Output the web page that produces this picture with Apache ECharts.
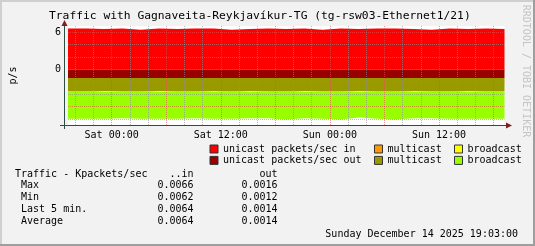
<!DOCTYPE html>
<html><head><meta charset="utf-8">
<script src="https://cdn.jsdelivr.net/npm/echarts@6/dist/echarts.min.js"></script>
<style>html,body{margin:0;padding:0;background:#f2f2f2}#c{width:535px;height:246px}</style>
</head><body><div id="c"></div>
<script>
// ---- data (hours relative to Sat 00:00, 13 Dec 2025) ----
const hours = [-4.8,-2.8,-0.8,1.2,3.2,5.2,7.2,9.2,11.2,13.2,15.2,17.2,19.2,21.2,23.2,25.2,27.2,29.2,31.2,33.2,35.2,37.2,39.2,41.2,43.2];
const inUnicast   = [6.6,6.5,6.6,6.4,6.6,6.5,6.6,6.6,6.4,6.5,6.6,6.5,6.6,6.4,6.6,6.5,6.6,6.6,6.5,6.4,6.6,6.5,6.6,6.5,6.6];
const inMulticast = [0,0,0,0,0,0,0,0,0,0,0,0,0,0,0,0,0,0,0,0,0,0,0,0,0];
const inBroadcast = [0,0,0,0,0,0,0,0,0,0,0,0,0,0,0,0,0,0,0,0,0,0,0,0,0];
const outUnicast   = [-1.4,-1.4,-1.4,-1.4,-1.4,-1.4,-1.4,-1.4,-1.4,-1.4,-1.4,-1.4,-1.4,-1.4,-1.4,-1.4,-1.4,-1.4,-1.4,-1.4,-1.4,-1.4,-1.4,-1.4,-1.4];
const outMulticast = [-2.2,-2.1,-2.2,-2.2,-2.1,-2.2,-2.2,-2.1,-2.2,-2.1,-2.2,-2.2,-2.1,-2.2,-2.2,-2.1,-2.2,-2.2,-2.1,-2.2,-2.2,-2.1,-2.2,-2.2,-2.2];
const outBroadcast = [-4.4,-4.5,-4.3,-4.4,-4.5,-4.4,-4.3,-4.5,-4.4,-4.4,-4.3,-4.5,-4.4,-4.4,-4.5,-4.3,-4.4,-4.5,-4.4,-4.3,-4.4,-4.5,-4.4,-4.4,-4.4];
const xRangeHours = [-4.8, 43.2];
const xTickHours = [0,12,24,36];
const xTickNames = ['Sat 00:00','Sat 12:00','Sun 00:00','Sun 12:00'];
const yTickValues = [6,0];
const minorXGrid = [-4,-2,2,4,8,10,14,16,20,22,26,28,32,34,38,40];
const majorXGrid = [0,6,12,18,24,30,36,42];
const minorYGrid = [4,2,-2,-4,-8];
const majorYGrid = [6,0,-6];
const seriesNames = ['unicast packets/sec in','multicast','broadcast','unicast packets/sec out','multicast ','broadcast '];
const seriesColors = ['#ff0000','#ff9900','#ffff00','#990000','#999900','#99ff00'];
const statLabels = ['Max','Min','Last 5 min.','Average'];
const statIn  = ['0.0066','0.0062','0.0064','0.0064'];
const statOut = ['0.0016','0.0012','0.0014','0.0014'];

const FONT = 'DejaVu Sans Mono';
const BASE = new Date(2025,11,13,0,0,0).getTime();
const H = 3600*1000;
const t = h => BASE + h*H;
const pairs = arr => hours.map((h,i)=>[t(h),arr[i]]);
const allVals = [inUnicast,inMulticast,inBroadcast,outUnicast,outMulticast,outBroadcast];
const stacks = ['in','in','in','out','out','out'];

const series = allVals.map((arr,i)=>{
  const hasArea = arr.some(v=>v!==0);
  const s = {
    name: seriesNames[i], type:'line', stack: stacks[i], step:'end',
    data: pairs(arr), color: seriesColors[i], showSymbol:false, symbol:'none',
    lineStyle:{width:0, opacity:0}, silent:true, z:2
  };
  if (hasArea) s.areaStyle = {color:seriesColors[i], opacity:1};
  return s;
});
const gridLine = (col)=>({color:col, width:1, type:[1,1]});
const minC='rgba(143,143,143,0.6)', majC='rgba(222,80,80,0.6)';
series[5].markLine = {
  silent:true, symbol:'none', label:{show:false}, animation:false,
  data: [].concat(
    minorYGrid.map(v=>({yAxis:v, lineStyle:gridLine(minC)})),
    majorYGrid.map(v=>({yAxis:v, lineStyle:gridLine(majC)})),
    minorXGrid.map(v=>({xAxis:t(v), lineStyle:gridLine(minC)})),
    majorXGrid.map(v=>({xAxis:t(v), lineStyle:gridLine(majC)}))
  )
};

const txt = (x,y,s,align)=>({type:'text', x, y, style:{text:s, font:'10px "'+FONT+'"', fill:'#000', align:align||'left', verticalAlign:'middle'}, silent:true});
const graphics = [
  {type:'rect', shape:{x:0,y:0,width:535,height:2}, style:{fill:'#cfcfcf'}, silent:true},
  {type:'rect', shape:{x:0,y:0,width:2,height:246}, style:{fill:'#cfcfcf'}, silent:true},
  {type:'rect', shape:{x:533,y:0,width:2,height:246}, style:{fill:'#9e9e9e'}, silent:true},
  {type:'rect', shape:{x:0,y:244,width:535,height:2}, style:{fill:'#9e9e9e'}, silent:true},
  {type:'text', x:526, y:71, rotation:-Math.PI/2, style:{text:'RRDTOOL / TOBI OETIKER', font:'10px "'+FONT+'"', fill:'#c4c4c4', align:'center', verticalAlign:'middle'}, silent:true},
  {type:'line', shape:{x1:60,y1:125.5,x2:508,y2:125.5}, style:{stroke:'#2c4d43',lineWidth:1}, silent:true, z:10},
  {type:'line', shape:{x1:64.5,y1:129,x2:64.5,y2:23}, style:{stroke:'#2c4d43',lineWidth:1}, silent:true, z:10},
  {type:'polygon', shape:{points:[[506,122.5],[512,125.5],[506,128.5]]}, style:{fill:'#7f1f1f'}, silent:true, z:10},
  {type:'polygon', shape:{points:[[61.5,26],[64.5,20],[67.5,26]]}, style:{fill:'#7f1f1f'}, silent:true, z:10},
  txt(15,174,'Traffic - Kpackets/sec'),
  txt(193.5,174,'..in','right'),
  txt(277.5,174,'out','right'),
  txt(518,234,'Sunday December 14 2025 19:03:00','right')
];
statLabels.forEach((l,i)=>{
  const y = 185.7 + i*12;
  graphics.push(txt(21,y,l), txt(193.5,y,statIn[i],'right'), txt(277.5,y,statOut[i],'right'));
});

const legendBase = (data,left)=>({
  data, left, top:144, orient:'vertical', itemWidth:8, itemHeight:8, itemGap:1.4, padding:0,
  icon:'rect', selectedMode:false, formatter: n=>n.trim(),
  itemStyle:{borderColor:'#333', borderWidth:1, opacity:1},
  textStyle:{fontFamily:FONT, fontSize:10, color:'#000', padding:[0,0,0,0]}
});

const chart = echarts.init(document.getElementById('c'), null, {renderer:'canvas'});
chart.setOption({
  animation:false,
  backgroundColor:'#f2f2f2',
  title:{text:'Traffic with Gagnaveita-Reykjavíkur-TG (tg-rsw03-Ethernet1/21)', left:49, top:11, padding:0,
    textStyle:{fontFamily:FONT, fontSize:11.3, fontWeight:'normal', color:'#000'}},
  grid:{left:64.5, top:26, width:440, height:99, show:true, backgroundColor:'#ffffff', borderWidth:0, containLabel:false},
  xAxis:{type:'time', min:t(xRangeHours[0]), max:t(xRangeHours[1]), minInterval:12*H, maxInterval:12*H,
    axisLine:{show:false}, axisTick:{show:false}, splitLine:{show:false},
    axisLabel:{margin:5, fontFamily:FONT, fontSize:10, color:'#000', hideOverlap:false,
      formatter:v=>{const k=xTickHours.findIndex(h=>Math.abs(t(h)-v)<60000); return k>=0?xTickNames[k]:'';}}},
  yAxis:{type:'value', min:-9, max:7, interval:1, name:'p/s', nameLocation:'middle', nameRotate:90, nameGap:50,
    nameTextStyle:{fontFamily:FONT, fontSize:10, color:'#000'},
    axisLine:{show:false}, axisTick:{show:false}, splitLine:{show:false},
    axisLabel:{margin:7, fontFamily:FONT, fontSize:10, color:'#000',
      formatter:v=>yTickValues.some(tv=>Math.abs(tv-v)<1e-6)?String(v):''}},
  legend:[
    legendBase([seriesNames[0],seriesNames[3]],209.5),
    legendBase([seriesNames[1],seriesNames[4]],374),
    legendBase([seriesNames[2],seriesNames[5]],454)
  ],
  graphic: graphics,
  series
});
</script></body></html>
